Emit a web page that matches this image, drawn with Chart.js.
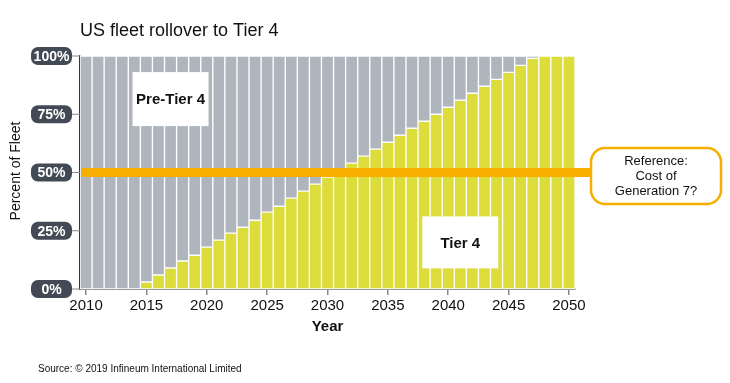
<!DOCTYPE html>
<html>
<head>
<meta charset="utf-8">
<script src="https://cdn.jsdelivr.net/npm/chart.js@4/dist/chart.umd.min.js"></script>
<style>
html, body { margin: 0; padding: 0; background: #fff; }
#wrap { width: 730px; height: 383px; position: relative; }
</style>
</head>
<body>
<div id="wrap"><canvas id="myChart"></canvas></div>
<script>
const years = [2010, 2011, 2012, 2013, 2014, 2015, 2016, 2017, 2018, 2019,
  2020, 2021, 2022, 2023, 2024, 2025, 2026, 2027, 2028, 2029,
  2030, 2031, 2032, 2033, 2034, 2035, 2036, 2037, 2038, 2039,
  2040, 2041, 2042, 2043, 2044, 2045, 2046, 2047, 2048, 2049, 2050]
const tier4 = [0, 0, 0, 0, 0, 3, 6, 9, 12, 14.5,
  18, 21, 24, 26.5, 29.5, 33, 35.5, 39, 42, 45,
  48, 51, 54, 57, 60, 63, 66, 69, 72, 75,
  78, 81, 84, 87, 90, 93, 96, 99, 100, 100, 100]
const preTier4 = [100, 100, 100, 100, 100, 97, 94, 91, 88, 85.5,
  82, 79, 76, 73.5, 70.5, 67, 64.5, 61, 58, 55,
  52, 49, 46, 43, 40, 37, 34, 31, 28, 25,
  22, 19, 16, 13, 10, 7, 4, 1, 0, 0, 0]
const yTicks = [0, 25, 50, 75, 100]
const yTickLabels = ['0%', '25%', '50%', '75%', '100%']
const refValue = 50
const refLines = ['Reference:', 'Cost of', 'Generation 7?']

const GRAY = '#aeb5bd'
const YELLOW = '#dcdc3a'
const ORANGE = '#f8ae00'
const FONT = 'Arial, "Liberation Sans", sans-serif'

const roundRect = (ctx, x, y, w, h, r) => {
    ctx.beginPath()
    ctx.moveTo(x + r, y)
    ctx.arcTo(x + w, y, x + w, y + h, r)
    ctx.arcTo(x + w, y + h, x, y + h, r)
    ctx.arcTo(x, y + h, x, y, r)
    ctx.arcTo(x, y, x + w, y, r)
    ctx.closePath()
}

const labelBox = (ctx, cx, cy, w, h, text) => {
    ctx.fillStyle = '#fff'
    ctx.fillRect(cx - w / 2, cy - h / 2, w, h)
    ctx.fillStyle = '#111'
    ctx.font = 'bold 15px ' + FONT
    ctx.textAlign = 'center'
    ctx.textBaseline = 'middle'
    ctx.fillText(text, cx, cy + 1)
}

const overlay = {
    id: 'overlay',
    afterDraw(chart) {
        const ctx = chart.ctx
        const x = chart.scales.x
        const y = chart.scales.y
        const area = chart.chartArea
        ctx.save()

        // title
        ctx.fillStyle = '#111'
        ctx.font = '18px ' + FONT
        ctx.textAlign = 'left'
        ctx.textBaseline = 'alphabetic'
        ctx.fillText('US fleet rollover to Tier 4', 80, 36)

        // y axis pills
        yTicks.forEach((v, i) => {
            const py = y.getPixelForValue(v)
            ctx.strokeStyle = '#888'
            ctx.lineWidth = 1
            ctx.beginPath()
            ctx.moveTo(71, py)
            ctx.lineTo(area.left, py)
            ctx.stroke()
            ctx.fillStyle = '#414a55'
            roundRect(ctx, 31, py - 9, 41, 18, 7)
            ctx.fill()
            ctx.fillStyle = '#fff'
            ctx.font = 'bold 14px ' + FONT
            ctx.textAlign = 'center'
            ctx.textBaseline = 'middle'
            ctx.fillText(yTickLabels[i], 51.5, py + 1)
        })

        // y title
        ctx.save()
        ctx.translate(16, 171)
        ctx.rotate(-Math.PI / 2)
        ctx.fillStyle = '#111'
        ctx.font = '14px ' + FONT
        ctx.textAlign = 'center'
        ctx.textBaseline = 'middle'
        ctx.fillText('Percent of Fleet', 0, 0)
        ctx.restore()

        // reference line + box
        const ry = y.getPixelForValue(refValue)
        ctx.fillStyle = ORANGE
        ctx.fillRect(area.left + 1, ry - 4.5, 592 - area.left, 9)
        ctx.lineWidth = 2.5
        ctx.strokeStyle = ORANGE
        ctx.fillStyle = '#fff'
        roundRect(ctx, 591, 148, 130, 56, 14)
        ctx.fill()
        ctx.stroke()
        ctx.fillStyle = '#111'
        ctx.font = '13px ' + FONT
        ctx.textAlign = 'center'
        ctx.textBaseline = 'middle'
        refLines.forEach((t, i) => ctx.fillText(t, 656, 161 + i * 15))

        // series labels
        labelBox(ctx, x.getPixelForValue(7), y.getPixelForValue(81.5), 76, 54, 'Pre-Tier 4')
        labelBox(ctx, x.getPixelForValue(31), y.getPixelForValue(20), 76, 52, 'Tier 4')

        // source
        ctx.fillStyle = '#111'
        ctx.font = '10px ' + FONT
        ctx.textAlign = 'left'
        ctx.textBaseline = 'middle'
        ctx.fillText('Source: \u00a9 2019 Infineum International Limited', 38, 369)

        ctx.restore()
    }
}

const ctx = document.getElementById('myChart').getContext('2d')
const chart = new Chart(ctx, {
    type: 'bar',
    data: {
        labels: years,
        datasets: [
            {
                label: 'Tier 4',
                data: tier4,
                backgroundColor: YELLOW,
                borderColor: '#fff',
                borderWidth: 1,
                borderSkipped: false
            },
            {
                label: 'Pre-Tier 4',
                data: preTier4,
                backgroundColor: GRAY,
                borderColor: '#fff',
                borderWidth: 1,
                borderSkipped: false
            }
        ]
    },
    options: {
        responsive: true,
        maintainAspectRatio: false,
        animation: false,
        datasets: { bar: { categoryPercentage: 1, barPercentage: 1 } },
        layout: { padding: { top: 56, right: 155, bottom: 46, left: 0 } },
        plugins: { legend: { display: false }, tooltip: { enabled: false } },
        scales: {
            x: {
                stacked: true,
                afterFit: s => { s.height = 48 },
                grid: {
                    drawOnChartArea: false,
                    drawTicks: true,
                    tickLength: 6,
                    offset: false,
                    lineWidth: 1.5,
                    color: c => (c.index % 5 === 0 ? '#888' : 'rgba(0,0,0,0)')
                },
                border: { display: true, color: '#999', width: 2 },
                ticks: {
                    autoSkip: false,
                    maxRotation: 0,
                    padding: 2,
                    color: '#111',
                    font: { family: FONT, size: 15 },
                    callback: (v, i) => (i % 5 === 0 ? years[i] : '')
                },
                title: {
                    display: true,
                    text: 'Year',
                    color: '#111',
                    font: { family: FONT, size: 15, weight: 'bold' },
                    padding: { top: 0, bottom: 1 }
                }
            },
            y: {
                stacked: true,
                min: 0,
                max: 100,
                afterFit: s => { s.width = 80 },
                grid: { display: false },
                border: { display: true, color: '#333', width: 1.2 },
                ticks: { display: false }
            }
        }
    },
    plugins: [overlay]
})
</script>
</body>
</html>
